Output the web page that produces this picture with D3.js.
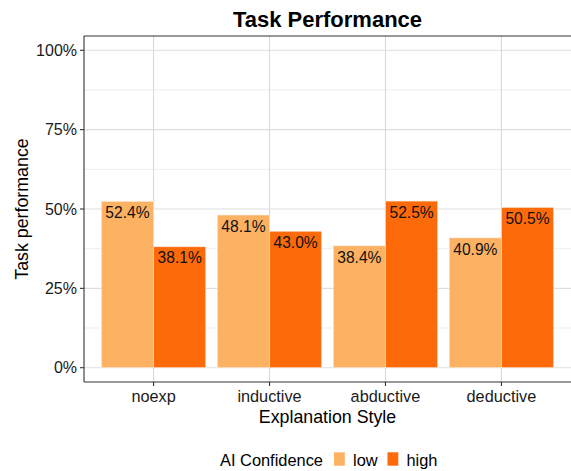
<!DOCTYPE html>
<html>
<head>
<script src="https://d3js.org/d3.v7.min.js"></script>
<style>
  body { margin: 0; background: #fff; }
  text { font-family: "Liberation Sans", Arial, Helvetica, sans-serif; }
</style>
</head>
<body>
<div id="chart"></div>
<script>
  // data
  var styles = ["noexp", "inductive", "abductive", "deductive"];
  var levels = ["low", "high"];
  var lowVals = [0.524, 0.481, 0.384, 0.409];
  var highVals = [0.381, 0.430, 0.525, 0.505];
  var yTicks = [0, 0.25, 0.5, 0.75, 1];
  var yMinor = [0.125, 0.375, 0.625, 0.875];
  var colors = ["#FDB163", "#FD6A0A"];

  var rows = [];
  styles.forEach(function(s, i) {
    rows.push({style: s, level: "low", v: lowVals[i]});
    rows.push({style: s, level: "high", v: highVals[i]});
  });

  var W = 571, H = 471;
  // panel edges (don't call these top/left: window.top is read-only)
  var pL = 84, pR = 571, pT = 36, pB = 382;

  var svg = d3.select("#chart").append("svg")
      .attr("width", W)
      .attr("height", H);

  // scales (0 at 367.7, 1 at 50.3 -> ggplot style expansion)
  var y = d3.scaleLinear().domain([0, 1]).range([367.7, 50.3]);
  // discrete x with 0.6 expansion each side, like ggplot
  var x = d3.scalePoint().domain(styles)
      .range([pL + (pR - pL) / 4.2 * 0.6, pR - (pR - pL) / 4.2 * 0.6]);
  var step = x.step();
  var inner = d3.scaleBand().domain(levels).range([-step * 0.45, step * 0.45]);
  var color = d3.scaleOrdinal().domain(levels).range(colors);

  // grid
  svg.selectAll(".minor").data(yMinor).enter().append("line")
      .attr("x1", pL).attr("x2", pR)
      .attr("y1", function(d) { return y(d); }).attr("y2", function(d) { return y(d); })
      .attr("stroke", "#ededed").attr("stroke-width", 1);
  svg.selectAll(".major").data(yTicks).enter().append("line")
      .attr("x1", pL).attr("x2", pR)
      .attr("y1", function(d) { return y(d); }).attr("y2", function(d) { return y(d); })
      .attr("stroke", "#dedede").attr("stroke-width", 1.1);
  svg.selectAll(".vgrid").data(styles).enter().append("line")
      .attr("x1", function(d) { return x(d); }).attr("x2", function(d) { return x(d); })
      .attr("y1", pT).attr("y2", pB)
      .attr("stroke", "#d9d9d9").attr("stroke-width", 1.1);

  // bars
  svg.selectAll(".bar").data(rows).enter().append("rect")
      .attr("x", function(d) { return x(d.style) + inner(d.level); })
      .attr("width", inner.bandwidth())
      .attr("y", function(d) { return y(d.v); })
      .attr("height", function(d) { return y(0) - y(d.v); })
      .attr("fill", function(d) { return color(d.level); })
      .attr("stroke", "#fbe9dc").attr("stroke-width", 0.6);

  svg.selectAll(".lab").data(rows).enter().append("text")
      .attr("x", function(d) { return x(d.style) + inner(d.level) + inner.bandwidth() / 2; })
      .attr("y", function(d) { return y(d.v) + 16.7; })
      .attr("text-anchor", "middle")
      .style("font-size", "15.6px")
      .style("fill", "#111")
      .text(function(d) { return (d.v * 100).toFixed(1) + "%"; });

  // axes frame
  svg.append("line").attr("x1", pL).attr("x2", pR).attr("y1", pT).attr("y2", pT)
      .attr("stroke", "#333").attr("stroke-width", 1.1);
  svg.append("line").attr("x1", pL).attr("x2", pR).attr("y1", pB).attr("y2", pB)
      .attr("stroke", "#333").attr("stroke-width", 1.1);
  svg.append("line").attr("x1", pL).attr("x2", pL).attr("y1", pT).attr("y2", pB)
      .attr("stroke", "#333").attr("stroke-width", 1.1);

  // y axis ticks
  var yAxis = svg.append("g");
  yAxis.selectAll("line").data(yTicks).enter().append("line")
      .attr("x1", pL - 4).attr("x2", pL)
      .attr("y1", function(d) { return y(d); }).attr("y2", function(d) { return y(d); })
      .attr("stroke", "#333").attr("stroke-width", 1.1);
  yAxis.selectAll("text").data(yTicks).enter().append("text")
      .attr("x", pL - 7)
      .attr("y", function(d) { return y(d) + 5.6; })
      .attr("text-anchor", "end")
      .style("font-size", "16px")
      .style("fill", "#1a1a1a")
      .text(d3.format(".0%"));

  // x axis ticks
  var xAxis = svg.append("g");
  xAxis.selectAll("line").data(styles).enter().append("line")
      .attr("x1", function(d) { return x(d); }).attr("x2", function(d) { return x(d); })
      .attr("y1", pB).attr("y2", pB + 4)
      .attr("stroke", "#333").attr("stroke-width", 1.1);
  xAxis.selectAll("text").data(styles).enter().append("text")
      .attr("x", function(d) { return x(d); })
      .attr("y", 401.5)
      .attr("text-anchor", "middle")
      .style("font-size", "16.3px")
      .style("fill", "#1a1a1a")
      .text(function(d) { return d; });

  // titles
  svg.append("text").attr("x", (pL + pR) / 2).attr("y", 27)
      .attr("text-anchor", "middle")
      .style("font-size", "22px").style("font-weight", "bold")
      .text("Task Performance");
  svg.append("text").attr("x", (pL + pR) / 2).attr("y", 423)
      .attr("text-anchor", "middle")
      .style("font-size", "17.8px")
      .text("Explanation Style");
  svg.append("text")
      .attr("transform", "translate(28," + ((pT + pB) / 2) + ") rotate(-90)")
      .attr("text-anchor", "middle")
      .style("font-size", "17.8px")
      .text("Task performance");

  // legend
  var leg = svg.append("g");
  leg.append("text").attr("x", 220).attr("y", 465.5)
      .style("font-size", "16.4px").text("AI Confidence");
  var keyX = [334, 387.5];
  levels.forEach(function(l, i) {
    leg.append("rect").attr("x", keyX[i]).attr("y", 452.3)
        .attr("width", 10.8).attr("height", 13.4)
        .attr("fill", color(l));
    leg.append("text").attr("x", keyX[i] + 19).attr("y", 465.5)
        .style("font-size", "16.4px").text(l);
  });
</script>
</body>
</html>
